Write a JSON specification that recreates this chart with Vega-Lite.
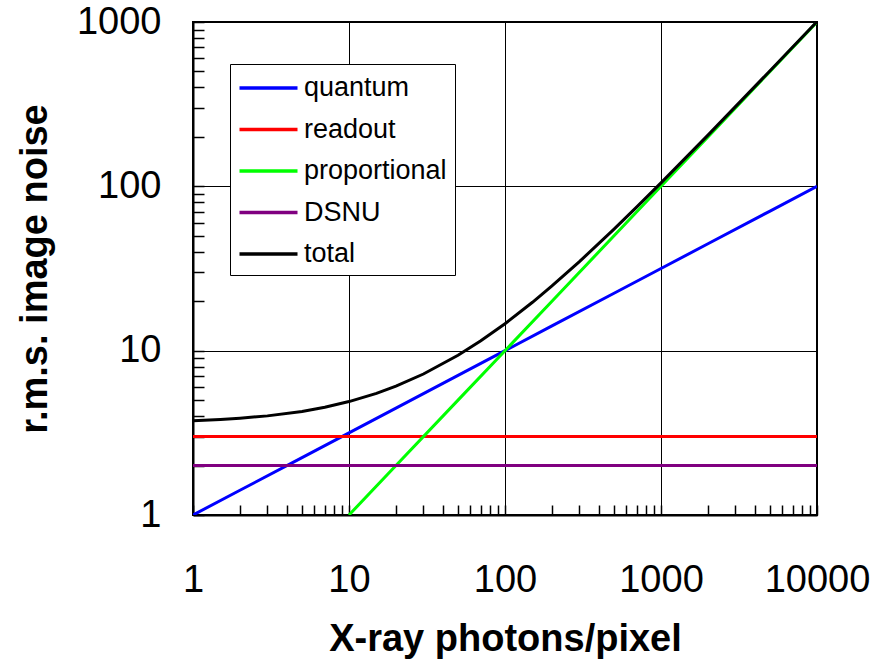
{
  "$schema": "https://vega.github.io/schema/vega-lite/v6.json",
  "width": 624,
  "height": 493,
  "autosize": {"type": "none"},
  "padding": {"left": 193, "top": 22, "right": 73, "bottom": 149},
  "background": "white",
  "config": {"view": {"stroke": "black", "strokeWidth": 2}, "font": "Liberation Sans"},
  "data": {"values": [
    {"photons": 1, "noise": 1, "series": "quantum"},
    {"photons": 2, "noise": 1.414, "series": "quantum"},
    {"photons": 5, "noise": 2.236, "series": "quantum"},
    {"photons": 10, "noise": 3.162, "series": "quantum"},
    {"photons": 20, "noise": 4.472, "series": "quantum"},
    {"photons": 50, "noise": 7.071, "series": "quantum"},
    {"photons": 100, "noise": 10, "series": "quantum"},
    {"photons": 200, "noise": 14.14, "series": "quantum"},
    {"photons": 500, "noise": 22.36, "series": "quantum"},
    {"photons": 1000, "noise": 31.62, "series": "quantum"},
    {"photons": 2000, "noise": 44.72, "series": "quantum"},
    {"photons": 5000, "noise": 70.71, "series": "quantum"},
    {"photons": 10000, "noise": 100, "series": "quantum"},
    {"photons": 1, "noise": 3, "series": "readout"},
    {"photons": 10000, "noise": 3, "series": "readout"},
    {"photons": 10, "noise": 1, "series": "proportional"},
    {"photons": 20, "noise": 2, "series": "proportional"},
    {"photons": 50, "noise": 5, "series": "proportional"},
    {"photons": 100, "noise": 10, "series": "proportional"},
    {"photons": 200, "noise": 20, "series": "proportional"},
    {"photons": 500, "noise": 50, "series": "proportional"},
    {"photons": 1000, "noise": 100, "series": "proportional"},
    {"photons": 2000, "noise": 200, "series": "proportional"},
    {"photons": 5000, "noise": 500, "series": "proportional"},
    {"photons": 10000, "noise": 1000, "series": "proportional"},
    {"photons": 1, "noise": 2, "series": "DSNU"},
    {"photons": 10000, "noise": 2, "series": "DSNU"},
    {"photons": 1, "noise": 3.74, "series": "total"},
    {"photons": 1.5, "noise": 3.81, "series": "total"},
    {"photons": 2, "noise": 3.88, "series": "total"},
    {"photons": 3, "noise": 4.01, "series": "total"},
    {"photons": 5, "noise": 4.27, "series": "total"},
    {"photons": 7, "noise": 4.53, "series": "total"},
    {"photons": 10, "noise": 4.9, "series": "total"},
    {"photons": 15, "noise": 5.5, "series": "total"},
    {"photons": 20, "noise": 6.08, "series": "total"},
    {"photons": 30, "noise": 7.21, "series": "total"},
    {"photons": 50, "noise": 9.38, "series": "total"},
    {"photons": 70, "noise": 11.49, "series": "total"},
    {"photons": 100, "noise": 14.59, "series": "total"},
    {"photons": 150, "noise": 19.7, "series": "total"},
    {"photons": 200, "noise": 24.76, "series": "total"},
    {"photons": 300, "noise": 34.83, "series": "total"},
    {"photons": 500, "noise": 54.89, "series": "total"},
    {"photons": 700, "noise": 74.92, "series": "total"},
    {"photons": 1000, "noise": 104.9, "series": "total"},
    {"photons": 2000, "noise": 204.97, "series": "total"},
    {"photons": 5000, "noise": 504.99, "series": "total"},
    {"photons": 10000, "noise": 1005, "series": "total"}
  ]},
  "mark": {"type": "line", "strokeWidth": 3, "clip": true},
  "encoding": {
    "x": {
      "field": "photons", "type": "quantitative",
      "scale": {"type": "log", "domain": [1, 10000]},
      "axis": {
        "values": [1,2,3,4,5,6,7,8,9,10,20,30,40,50,60,70,80,90,100,200,300,400,500,600,700,800,900,1000,2000,3000,4000,5000,6000,7000,8000,9000,10000],
        "format": "d",
        "labelExpr": "indexof([1,10,100,1000,10000], datum.value) >= 0 ? datum.label : ''",
        "labelFont": "Liberation Sans", "labelFontSize": 38, "labelColor": "black",
        "labelPadding": 56, "labelFlush": false, "labelOverlap": false, "labelBound": false,
        "tickSize": -10, "tickColor": "black", "tickWidth": 1.5,
        "grid": true, "gridColor": "black", "gridWidth": 1,
        "gridOpacity": {"condition": {"test": "indexof([1,10,100,1000,10000], datum.value) >= 0", "value": 1}, "value": 0},
        "domainColor": "black", "domainWidth": 2,
        "title": "X-ray photons/pixel",
        "titleFont": "Liberation Sans", "titleFontSize": 38, "titleFontWeight": "bold", "titleColor": "black",
        "titleY": 124, "titleBaseline": "middle"
      }
    },
    "y": {
      "field": "noise", "type": "quantitative",
      "scale": {"type": "log", "domain": [1, 1000]},
      "axis": {
        "values": [1,2,3,4,5,6,7,8,9,10,20,30,40,50,60,70,80,90,100,200,300,400,500,600,700,800,900,1000],
        "format": "d",
        "labelExpr": "indexof([1,10,100,1000], datum.value) >= 0 ? datum.label : ''",
        "labelFont": "Liberation Sans", "labelFontSize": 38, "labelColor": "black",
        "labelPadding": 43, "labelOverlap": false, "labelBound": false, "labelFlush": false,
        "tickSize": -11, "tickColor": "black", "tickWidth": 1.5,
        "grid": true, "gridColor": "black", "gridWidth": 1,
        "gridOpacity": {"condition": {"test": "indexof([1,10,100,1000], datum.value) >= 0", "value": 1}, "value": 0},
        "domainColor": "black", "domainWidth": 2,
        "title": "r.m.s. image noise",
        "titleFont": "Liberation Sans", "titleFontSize": 38, "titleFontWeight": "bold", "titleColor": "black",
        "titleX": -158, "titleY": 246.5, "titleBaseline": "middle", "titleAngle": -90
      }
    },
    "color": {
      "field": "series", "type": "nominal",
      "scale": {"domain": ["quantum", "readout", "proportional", "DSNU", "total"], "range": ["#0000ff", "#ff0000", "#00ff00", "#800080", "#000000"]},
      "legend": {
        "title": null, "orient": "none", "legendX": 37, "legendY": 42,
        "symbolType": "M-2,0L2,0", "symbolSize": 841, "symbolStrokeWidth": 3.5, "symbolOffset": 14.5,
        "labelFont": "Liberation Sans", "labelFontSize": 27, "labelColor": "black",
        "labelOffset": 19, "rowPadding": 11.5, "padding": 7.5, "labelLimit": 300,
        "strokeColor": "black", "fillColor": "white"
      }
    }
  }
}
